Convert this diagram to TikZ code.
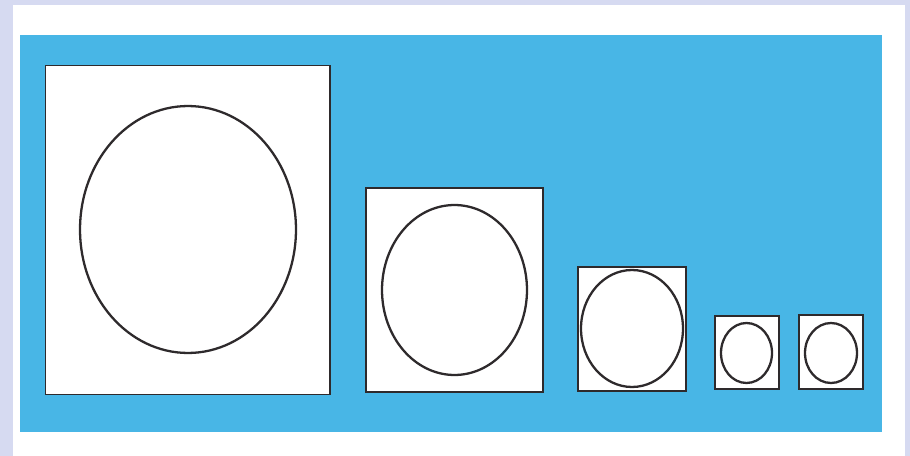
\documentclass[tikz,border=0pt]{standalone}
\usepackage{xcolor}
\usepackage{tikz}
\usetikzlibrary{shapes.geometric}
\definecolor{nsBack}{HTML}{D6DAF1}
\definecolor{nsPanel}{HTML}{48B6E6}
\definecolor{nsInk}{HTML}{2E2A2C}
\tikzset{
  ns frame/.style={draw=nsInk, fill=white, line width=0.6pt,
    inner sep=0pt, outer sep=0pt},
  ns ring/.style={ellipse, draw=nsInk, line width=1.3pt,
    inner sep=0pt, outer sep=0pt}
}
\begin{document}
\begin{tikzpicture}[x=0.02cm,y=-0.02cm]
\useasboundingbox (0,0) rectangle (910,456);
\fill[nsBack] (0,0) rectangle (910,456);
\fill[white] (13,5) rectangle (905,456);
\fill[nsPanel] (20,35) rectangle (882,432);
% boxes, largest to smallest
\node[ns frame,minimum width=5.70cm,minimum height=6.60cm] (box1) at (187.5,230) {};
\node[ns frame,minimum width=3.54cm,minimum height=4.08cm] (box2) at (454.5,290) {};
\node[ns frame,minimum width=2.16cm,minimum height=2.48cm] (box3) at (632,329) {};
\node[ns frame,minimum width=1.28cm,minimum height=1.46cm] (box4) at (747,352.5) {};
\node[ns frame,minimum width=1.28cm,minimum height=1.48cm] (box5) at (831,352) {};
% ovals inside
\node[ns ring,minimum width=4.32cm,minimum height=4.94cm] (ring1) at (188,229.5) {};
\node[ns ring,minimum width=2.90cm,minimum height=3.40cm] (ring2) at (454.5,290) {};
\node[ns ring,minimum width=2.04cm,minimum height=2.34cm] (ring3) at (632,328.5) {};
\node[ns ring,minimum width=1.02cm,minimum height=1.20cm] (ring4) at (746.5,353) {};
\node[ns ring,minimum width=1.04cm,minimum height=1.20cm] (ring5) at (831,353) {};
\end{tikzpicture}
\end{document}
